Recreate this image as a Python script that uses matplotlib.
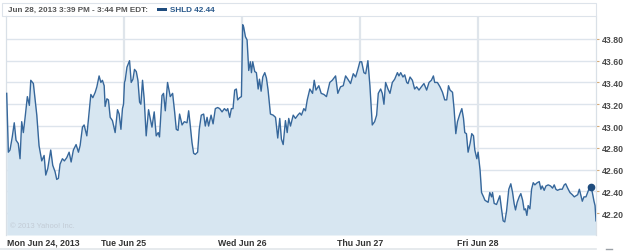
import matplotlib
matplotlib.use("Agg")
import matplotlib.pyplot as plt
import numpy as np
from matplotlib.patches import Rectangle
from matplotlib.lines import Line2D

# ---------------------------------------------------------------------------
# DATA  (x = trading days since Mon open, 1.0 = one session 9:30-16:00)
# ---------------------------------------------------------------------------
mon_t = [0.006, 0.020, 0.034, 0.053, 0.070, 0.085, 0.104, 0.119, 0.133, 0.147,
         0.161, 0.181, 0.198, 0.210, 0.232, 0.261, 0.280, 0.303, 0.323, 0.337,
         0.354, 0.379, 0.396, 0.416, 0.430, 0.444, 0.458, 0.478, 0.495, 0.515,
         0.535, 0.552, 0.571, 0.594, 0.614, 0.628, 0.648, 0.662, 0.685, 0.699,
         0.719, 0.736, 0.756, 0.770, 0.789, 0.804, 0.817, 0.832, 0.840, 0.855,
         0.868, 0.883, 0.902, 0.925, 0.945, 0.959, 0.974, 0.987, 0.996]
mon_p = [43.30, 42.76, 42.78, 42.90, 43.03, 42.87, 42.84, 42.70, 43.04, 42.94,
         43.07, 43.27, 43.19, 43.42, 43.39, 43.10, 42.82, 42.68, 42.73, 42.55,
         42.61, 42.78, 42.64, 42.58, 42.51, 42.52, 42.65, 42.70, 42.68, 42.71,
         42.76, 42.67, 42.78, 42.83, 42.76, 42.82, 42.99, 43.01, 42.91, 43.07,
         43.29, 43.26, 43.31, 43.36, 43.46, 43.40, 43.42, 43.37, 43.18, 43.25,
         43.24, 43.08, 43.05, 42.94, 43.15, 43.11, 42.97, 43.16, 43.20]

tue_t = [1.004, 1.010, 1.025, 1.047, 1.061, 1.076, 1.089, 1.104, 1.118, 1.132,
         1.143, 1.157, 1.171, 1.188, 1.208, 1.222, 1.237, 1.256, 1.273, 1.290,
         1.301, 1.322, 1.335, 1.350, 1.369, 1.392, 1.412, 1.429, 1.443, 1.458,
         1.471, 1.492, 1.511, 1.534, 1.548, 1.562, 1.576, 1.590, 1.604, 1.624,
         1.638, 1.655, 1.675, 1.689, 1.704, 1.717, 1.738, 1.755, 1.774, 1.794,
         1.811, 1.831, 1.851, 1.868, 1.879, 1.896, 1.910, 1.924, 1.938, 1.952,
         1.963, 1.980, 1.995]
tue_p = [43.40, 43.42, 43.54, 43.60, 43.40, 43.43, 43.52, 43.50, 43.42, 43.22,
         43.20, 43.42, 43.25, 42.91, 43.15, 43.07, 42.99, 43.13, 42.91, 42.94,
         42.90, 43.28, 43.30, 43.14, 43.40, 43.27, 43.30, 43.13, 42.97, 42.96,
         43.11, 43.01, 43.04, 43.03, 43.14, 43.00, 42.85, 42.75, 42.74, 42.76,
         42.97, 43.10, 43.11, 43.00, 43.08, 43.00, 43.10, 43.02, 43.16, 43.17,
         43.16, 43.13, 43.16, 43.14, 43.16, 43.08, 43.16, 43.16, 43.33, 43.34,
         43.24, 43.26, 43.27]

wed_t = [2.006, 2.014, 2.029, 2.043, 2.057, 2.071, 2.080, 2.091, 2.108, 2.122,
         2.137, 2.148, 2.162, 2.176, 2.193, 2.207, 2.221, 2.241, 2.264, 2.284,
         2.303, 2.320, 2.334, 2.349, 2.368, 2.383, 2.396, 2.411, 2.434, 2.453,
         2.473, 2.490, 2.504, 2.524, 2.538, 2.553, 2.575, 2.598, 2.612, 2.627,
         2.651, 2.671, 2.694, 2.716, 2.744, 2.765, 2.793, 2.812, 2.835, 2.858,
         2.878, 2.897, 2.920, 2.943, 2.963, 2.982, 2.999]
wed_p = [43.93, 43.91, 43.82, 43.79, 43.51, 43.59, 43.49, 43.59, 43.50, 43.49,
         43.34, 43.43, 43.32, 43.45, 43.49, 43.44, 43.33, 43.11, 43.10, 43.08,
         42.89, 43.07, 42.88, 42.83, 43.05, 42.94, 43.07, 43.00, 43.10, 43.07,
         43.10, 43.12, 43.10, 43.16, 43.14, 43.24, 43.34, 43.30, 43.42, 43.33,
         43.37, 43.30, 43.29, 43.27, 43.40, 43.42, 43.46, 43.30, 43.36, 43.37,
         43.46, 43.43, 43.39, 43.48, 43.45, 43.52, 43.59]

thu_t = [3.014, 3.033, 3.048, 3.067, 3.084, 3.104, 3.124, 3.141, 3.155, 3.175,
         3.189, 3.203, 3.217, 3.237, 3.254, 3.274, 3.294, 3.317, 3.330, 3.345,
         3.364, 3.379, 3.396, 3.407, 3.424, 3.444, 3.463, 3.480, 3.500, 3.520,
         3.542, 3.565, 3.585, 3.605, 3.622, 3.633, 3.656, 3.678, 3.699, 3.718,
         3.735, 3.750, 3.763, 3.784, 3.797, 3.812, 3.826, 3.846, 3.863, 3.877,
         3.888, 3.902, 3.916, 3.933, 3.947, 3.962, 3.973, 3.990, 4.001]
thu_p = [43.59, 43.49, 43.48, 43.60, 43.37, 43.01, 43.04, 43.10, 43.30, 43.34,
         43.30, 43.20, 43.40, 43.34, 43.30, 43.40, 43.43, 43.49, 43.46, 43.49,
         43.45, 43.47, 43.40, 43.39, 43.45, 43.42, 43.34, 43.36, 43.33, 43.36,
         43.39, 43.33, 43.40, 43.42, 43.46, 43.40, 43.40, 43.36, 43.31, 43.24,
         43.24, 43.37, 43.33, 43.31, 43.16, 42.93, 43.04, 43.11, 43.16, 43.07,
         42.94, 42.93, 42.76, 42.84, 42.93, 42.91, 42.78, 42.70, 42.76]

fri_t = [4.018, 4.030, 4.047, 4.058, 4.071, 4.086, 4.100, 4.115, 4.123, 4.137,
         4.157, 4.171, 4.185, 4.199, 4.213, 4.227, 4.242, 4.261, 4.278, 4.293,
         4.306, 4.318, 4.332, 4.349, 4.363, 4.378, 4.391, 4.403, 4.414, 4.425,
         4.440, 4.454, 4.468, 4.482, 4.502, 4.519, 4.533, 4.544, 4.561, 4.576,
         4.595, 4.615, 4.632, 4.646, 4.660, 4.674, 4.694, 4.714, 4.731, 4.743,
         4.760, 4.779, 4.799, 4.816, 4.830, 4.845, 4.859, 4.873, 4.884, 4.898,
         4.915, 4.929, 4.943, 4.958, 4.969, 4.983, 4.992, 5.000]
fri_p = [42.59, 42.39, 42.35, 42.32, 42.31, 42.30, 42.39, 42.35, 42.39, 42.29,
         42.28, 42.32, 42.36, 42.24, 42.13, 42.12, 42.22, 42.42, 42.47, 42.39,
         42.29, 42.23, 42.30, 42.35, 42.38, 42.32, 42.23, 42.24, 42.18, 42.27,
         42.24, 42.42, 42.48, 42.46, 42.48, 42.49, 42.42, 42.45, 42.41, 42.45,
         42.46, 42.45, 42.43, 42.46, 42.42, 42.41, 42.42, 42.42, 42.46, 42.47,
         42.43, 42.39, 42.37, 42.35, 42.36, 42.37, 42.42, 42.36, 42.31, 42.35,
         42.35, 42.39, 42.43, 42.44, 42.39, 42.31, 42.27, 42.13]

day_labels = ["Mon Jun 24, 2013", "Tue Jun 25", "Wed Jun 26", "Thu Jun 27", "Fri Jun 28"]
price_ticks = [42.20, 42.40, 42.60, 42.80, 43.00, 43.20, 43.40, 43.60, 43.80]
ticker = "SHLD"
quote_price = 42.44
quote_t = 4.958
header_time = "Jun 28, 2013 3:39 PM - 3:44 PM EDT:"

# ---------------------------------------------------------------------------
LINE_C = "#36679b"
FILL_C = "#d7e6f1"
GRID_C = "#dde4ec"
TEXT_C = "#4a4a4a"
FONT = ["Liberation Sans", "DejaVu Sans"]

t = np.concatenate([mon_t, tue_t, wed_t, thu_t, fri_t])
p = np.concatenate([mon_p, tue_p, wed_p, thu_p, fri_p])

W, H = 625, 253
fig = plt.figure(figsize=(W / 100, H / 100), dpi=100)
ax = fig.add_axes([6 / W, 17 / H, 590 / W, 219 / H])

ymin, ymax = 42.0, 44.01
ax.set_xlim(0, 5.0)
ax.set_ylim(ymin, ymax)

# grid
for v in price_ticks:
    ax.axhline(v, color=GRID_C, lw=1.0, zorder=1)
for d in range(1, 5):
    ax.axvline(d, color="#dfe5eb", lw=1.6, zorder=1)

ax.fill_between(t, p, ymin, color=FILL_C, lw=0, zorder=2)
ax.plot(t, p, color=LINE_C, lw=1.0, zorder=3)
ax.plot([quote_t], [quote_price], "o", color="#1f4c7e", ms=4.5, zorder=4)

# ticks on right
ax.yaxis.tick_right()
ax.set_yticks(price_ticks)
ax.set_yticklabels([f"{v:.2f}" for v in price_ticks], fontsize=6.3,
                   fontweight="bold", color=TEXT_C, family=FONT)
ax.tick_params(axis="y", length=2, width=0.8, color="#d4aa78", pad=2)
ax.set_xticks([])

for s in ["top", "bottom"]:
    ax.spines[s].set_visible(False)
for s in ["left", "right"]:
    ax.spines[s].set_color("#d9e0e7")
    ax.spines[s].set_linewidth(0.9)

# day labels under the plot
lab_y = 1 - 243.5 / H
for i, lab in enumerate(day_labels):
    ha = "left" if i == 0 else "center"
    x = 0.01 if i == 0 else i
    xf = fig.transFigure.inverted().transform(ax.transData.transform((x, ymin)))[0]
    fig.text(xf, lab_y, lab, ha=ha, va="center",
             fontsize=6.3, fontweight="bold", color="#333333", family=FONT)

ax.text(0.006, 0.035, "\u00a9 2013 Yahoo! Inc.", transform=ax.transAxes,
        fontsize=5.5, color="#c3ccd6", family=FONT, zorder=5)

# header box
fig.patches.append(Rectangle((2 / W, 1 - 17 / H), 594 / W, 13 / H,
                             transform=fig.transFigure, fill=False,
                             ec="#dde3ea", lw=0.8))
fig.text(8 / W, 1 - 10.5 / H, header_time, ha="left", va="center",
         fontsize=5.9, fontweight="bold", color="#555555", family=FONT)
fig.patches.append(Rectangle((157 / W, 1 - 12 / H), 10 / W, 3 / H,
                             transform=fig.transFigure, color="#1f4c7e", lw=0))
fig.text(170 / W, 1 - 10.5 / H, f"{ticker} {quote_price:.2f}", ha="left",
         va="center", fontsize=5.9, fontweight="bold", color="#2b5a8c", family=FONT)

# bottom rule
fig.lines.append(Line2D([0, 596 / W], [1 - 250 / H] * 2, transform=fig.transFigure,
                        color="#e2e6ea", lw=1.2))
fig.lines.append(Line2D([606 / W, 612 / W], [1 - 250 / H] * 2,
                        transform=fig.transFigure, color="#9aa0a6", lw=1.0))

fig.savefig("out.png", dpi=100)
